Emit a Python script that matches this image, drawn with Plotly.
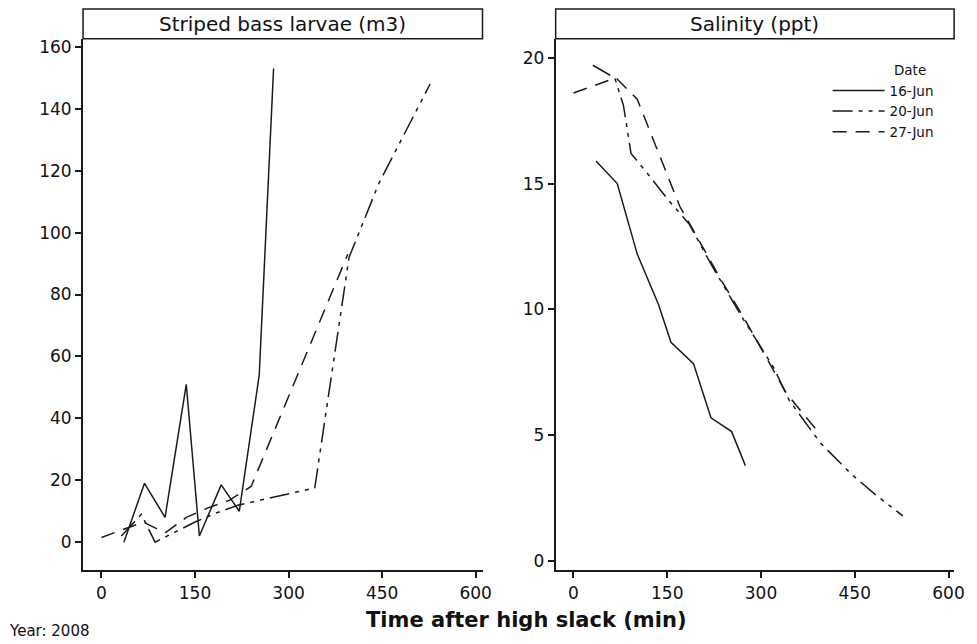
import plotly.graph_objects as go

# ---------------- data ----------------
dates = ["16-Jun", "20-Jun", "27-Jun"]

# Striped bass larvae (m3)
larv_t_16 = [36, 69, 102, 136, 157, 192, 221, 253, 276]
larv_v_16 = [0, 19, 8, 51, 2, 18.5, 10, 54, 153]

larv_t_20 = [32, 64, 86, 120, 150, 185, 220, 275, 342, 397, 445, 527]
larv_v_20 = [2, 9, 0, 3.5, 6.5, 9.5, 12, 14.5, 17.5, 92, 116, 148]

larv_t_27 = [0, 34, 67, 102, 136, 170, 205, 240, 395]
larv_v_27 = [1.5, 4, 6.5, 3, 8, 11, 13.5, 18, 93]

# Salinity (ppt)
sal_t_16 = [36, 70, 102, 136, 156, 192, 220, 253, 275]
sal_v_16 = [15.9, 15.0, 12.2, 10.2, 8.7, 7.85, 5.7, 5.15, 3.8]

sal_t_20 = [31, 66, 80, 92, 120, 150, 185, 220, 272, 320, 345, 395, 445, 483, 527]
sal_v_20 = [19.7, 19.2, 18.1, 16.2, 15.35, 14.4, 13.4, 11.8, 9.6, 7.7, 6.4, 4.7, 3.45, 2.65, 1.8]

sal_t_27 = [0, 41, 68, 102, 136, 170, 204, 238, 272, 306, 340, 366, 393]
sal_v_27 = [18.6, 18.95, 19.2, 18.35, 16.2, 14.1, 12.6, 11.1, 9.7, 8.2, 6.7, 5.9, 5.1]

x_ticks = [0, 150, 300, 450, 600]
larv_ticks = [0, 20, 40, 60, 80, 100, 120, 140, 160]
sal_ticks = [0, 5, 10, 15, 20]

panel_titles = ["Striped bass larvae (m3)", "Salinity (ppt)"]
x_title = "Time after high slack (min)"
footnote = "Year: 2008"

# ---------------- styles ----------------
FONT = "DejaVu Sans"
INK = "#1a1a1a"
dash_styles = {
    "16-Jun": "solid",
    "20-Jun": "20px,6px,4px,6px,4px,6px",
    "27-Jun": "14px,9px",
}

W, H = 977, 644
def px_x(p):
    return p / W
def px_y(p):
    return (H - p) / H

left_dom = [px_x(84), px_x(488)]
right_dom = [px_x(562), px_x(965)]
y_dom = [px_y(571), px_y(37)]

fig = go.Figure()

larv = {"16-Jun": (larv_t_16, larv_v_16), "20-Jun": (larv_t_20, larv_v_20), "27-Jun": (larv_t_27, larv_v_27)}
sal = {"16-Jun": (sal_t_16, sal_v_16), "20-Jun": (sal_t_20, sal_v_20), "27-Jun": (sal_t_27, sal_v_27)}

for d in dates:
    t, v = larv[d]
    fig.add_trace(go.Scatter(x=t, y=v, mode="lines", name=d, showlegend=False,
                             line=dict(color=INK, width=1.5, dash=dash_styles[d]),
                             xaxis="x", yaxis="y"))
for d in dates:
    t, v = sal[d]
    fig.add_trace(go.Scatter(x=t, y=v, mode="lines", name=d, showlegend=True,
                             line=dict(color=INK, width=1.5, dash=dash_styles[d]),
                             xaxis="x2", yaxis="y2"))

axis_common = dict(showline=True, linecolor=INK, linewidth=2, ticks="outside",
                   ticklen=6, tickwidth=1.5, tickcolor=INK, showgrid=False,
                   zeroline=False, tickfont=dict(family=FONT, size=17, color="#111"),
                   mirror=False)

fig.update_layout(
    width=W, height=H,
    margin=dict(l=0, r=0, t=0, b=0),
    paper_bgcolor="white", plot_bgcolor="white",
    font=dict(family=FONT, color="#111"),
    xaxis=dict(domain=left_dom, range=[-29.5, 611], tickvals=x_ticks, anchor="y", **axis_common),
    yaxis=dict(domain=y_dom, range=[-9.1, 162.6], tickvals=larv_ticks, anchor="x", **axis_common),
    xaxis2=dict(domain=right_dom, range=[-28.5, 609], tickvals=x_ticks, anchor="y2", **axis_common),
    yaxis2=dict(domain=y_dom, range=[-0.36, 20.75], tickvals=sal_ticks, anchor="x2", **axis_common),
    legend=dict(x=px_x(837), y=px_y(56), xanchor="left", yanchor="top",
                bgcolor="rgba(0,0,0,0)", itemwidth=52, tracegroupgap=0,
                font=dict(family=FONT, size=13.5, color="#111"),
                title=dict(text="\u00a0" * 15 + "Date", font=dict(family=FONT, size=13.5, color="#111"))),
    showlegend=True,
)

# panel header strips
for dom, title in zip([left_dom, right_dom], panel_titles):
    fig.add_shape(type="rect", xref="paper", yref="paper",
                  x0=dom[0], x1=dom[1], y0=y_dom[1], y1=px_y(7),
                  line=dict(color=INK, width=1.5), fillcolor="white", layer="above")
    fig.add_annotation(xref="paper", yref="paper", x=(dom[0] + dom[1]) / 2,
                       y=(y_dom[1] + px_y(7)) / 2, text=title, showarrow=False,
                       xanchor="center", yanchor="middle",
                       font=dict(family=FONT, size=20, color="#111"))

fig.add_annotation(xref="paper", yref="paper", x=px_x(532), y=px_y(621), text="<b>" + x_title + "</b>",
                   showarrow=False, xanchor="center", yanchor="middle",
                   font=dict(family=FONT, size=21, color="#111"))
fig.add_annotation(xref="paper", yref="paper", x=px_x(7), y=px_y(643), text=footnote,
                   showarrow=False, xanchor="left", yanchor="bottom",
                   font=dict(family=FONT, size=15, color="#111"))

fig.write_html("out.html")
